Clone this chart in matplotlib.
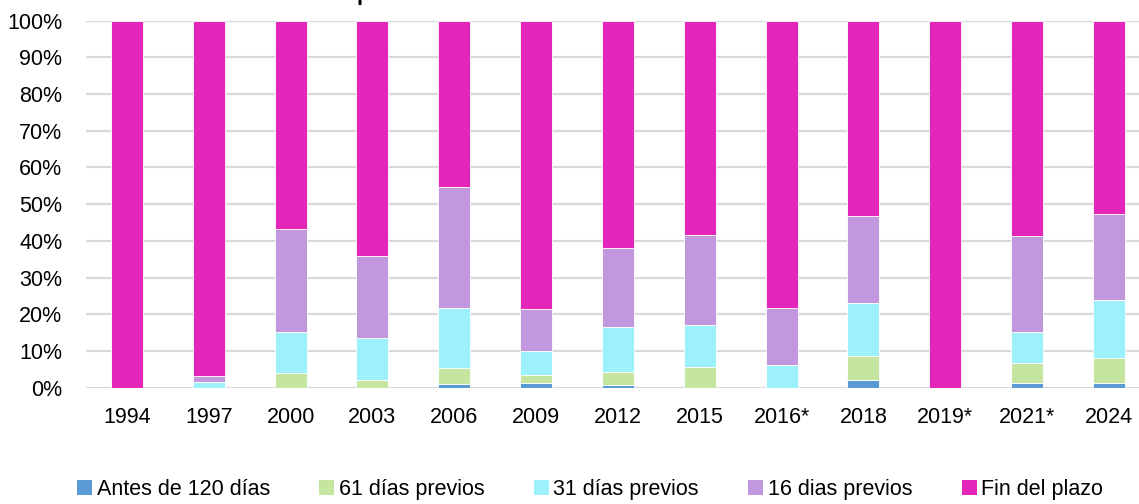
import matplotlib
matplotlib.use("Agg")
from matplotlib import pyplot as plt
from matplotlib.patches import Patch
from matplotlib.ticker import PercentFormatter
import numpy as np

plt.rcParams['font.family'] = ['Liberation Sans', 'DejaVu Sans']

# --- DATOS ---
anios = ["1994", "1997", "2000", "2003", "2006", "2009", "2012",
         "2015", "2016*", "2018", "2019*", "2021*", "2024"]

antes_120 = [0.0, 0.0, 0.0, 0.0, 1.1, 1.4, 0.7, 0.0, 0.0, 2.0, 0.0, 1.4, 1.2]
previos_61 = [0.0, 0.0, 3.9, 2.0, 4.3, 2.1, 3.6, 5.5, 0.0, 6.5, 0.0, 5.2, 7.0]
previos_31 = [0.0, 1.5, 11.2, 11.6, 16.3, 6.5, 12.2, 11.6, 6.2, 14.7, 0.0, 8.7, 15.7]
previos_16 = [0.0, 1.7, 28.2, 22.4, 33.0, 11.5, 21.5, 24.5, 15.5, 23.6, 0.0, 26.1, 23.3]
fin_plazo = [100.0, 96.8, 56.7, 64.0, 45.3, 78.5, 62.0, 58.4, 78.3, 53.2, 100.0, 58.6, 52.8]

series = ["Antes de 120 días", "61 días previos", "31 días previos",
          "16 dias previos", "Fin del plazo"]
colores = ["#5B9BD5", "#C5E5A0", "#9CF1FA", "#C197DE", "#E326B9"]

titulo = "procesos electorales del escenario"

# --- GRAFICO ---
fig = plt.figure(figsize=(11.39, 5.04), dpi=100)
ax = fig.add_axes([0.0755, 0.2308, 0.934, 0.7282])

x = np.arange(len(anios))
base = np.zeros(len(anios))
for nombre, valores, color in zip(series, [antes_120, previos_61, previos_31, previos_16, fin_plazo], colores):
    v = np.array(valores) / 100
    ax.bar(x, v, bottom=base, width=0.39, color=color, edgecolor='white',
           linewidth=0.6, zorder=3, label=nombre)
    base = base + v

ax.set_xlim(-0.5, len(anios) - 0.5)
ax.set_ylim(0, 1)
ax.set_yticks(np.arange(0, 1.01, 0.1))
ax.yaxis.set_major_formatter(PercentFormatter(1.0, decimals=0))
ax.set_xticks(x)
ax.set_xticklabels(anios)
ax.tick_params(axis='both', length=0, labelsize=15.5)
ax.tick_params(axis='y', pad=17)
ax.tick_params(axis='x', pad=14)
ax.grid(axis='y', color='#D9D9D9', linewidth=1.6, zorder=0)
for s in ax.spines.values():
    s.set_visible(False)

fig.text(0.475, 1.0, titulo, ha='center', va='baseline', fontsize=16, fontweight='bold')

handles = [Patch(facecolor=c, edgecolor='none') for c in colores]
fig.legend(handles, series, loc='center', bbox_to_anchor=(0.518, 0.028), ncol=5,
           frameon=False, fontsize=15.5, handlelength=0.7, handleheight=0.7,
           handletextpad=0.2, columnspacing=2.3, borderaxespad=0)

fig.savefig("out.png", dpi=100)
